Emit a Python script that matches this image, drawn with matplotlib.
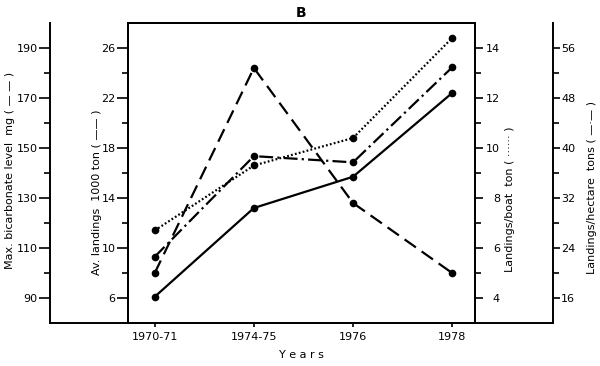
# Gráfico com quatro eixos y (figura B)
import matplotlib.pyplot as plt

plt.rcParams['lines.scale_dashes'] = False

# Dados
anos = ['1970-71', '1974-75', '1976', '1978']
bicarbonato = [100, 182, 128, 100]      # mg, tracejado
desembarques = [6.1, 13.2, 15.7, 22.4]  # 1000 ton, linha continua
por_barco = [6.7, 9.3, 10.4, 14.4]      # ton, pontilhado
por_hectare = [22.6, 38.7, 37.7, 52.9]  # ton, traco-ponto

x = list(range(len(anos)))
fs = 8
lw = 1.6

fig = plt.figure(figsize=(6, 3.66), dpi=100)
ax = fig.add_axes([0.2133, 0.1175, 0.5783, 0.8197])
ax_b = ax.twinx()
ax_d = ax.twinx()
ax_h = ax.twinx()

# Linhas
ax.plot(x, desembarques, color='black', lw=lw, marker='o', ms=4.5)
ax_b.plot(x, bicarbonato, color='black', lw=lw, marker='o', ms=4.5, dashes=(10, 5))
ax_d.plot(x, por_barco, color='black', lw=lw, marker='o', ms=4.5, dashes=(1.3, 1.6))
ax_h.plot(x, por_hectare, color='black', lw=lw, marker='o', ms=4.5, dashes=(10, 3, 1.6, 3))

ax.set_xlim(-0.27, 3.23)
ax.set_xticks(x, anos, fontsize=fs)
ax.tick_params(axis='x', length=3, width=1.2, direction='out')

# Eixo esquerdo interno (desembarques)
ax.set_ylim(4, 28)
ax.set_yticks(range(6, 27, 4))
ax.set_yticks(range(8, 27, 4), minor=True)
ax.tick_params(axis='y', which='major', length=8, width=1.2, labelsize=fs, pad=1)
ax.tick_params(axis='y', which='minor', length=4, width=1.2)
ax.set_ylabel('Av. landings  1000 ton ( —— )', fontsize=fs)
ax.yaxis.set_label_coords(-0.089, 0.437)

# Eixo esquerdo externo (bicarbonato)
ax_b.set_ylim(80, 200)
ax_b.yaxis.set_ticks_position('left')
ax_b.yaxis.set_label_position('left')
ax_b.spines['left'].set_position(('axes', -0.2248))
ax_b.spines['left'].set_visible(True)
ax_b.set_yticks(range(90, 191, 20))
ax_b.set_yticks(range(100, 191, 20), minor=True)
ax_b.tick_params(axis='y', which='major', length=8, width=1.2, labelsize=fs, pad=1)
ax_b.tick_params(axis='y', which='minor', length=4, width=1.2)
ax_b.set_ylabel('Max. bicarbonate level  mg ( — — )', fontsize=fs)
ax_b.yaxis.set_label_coords(-0.340, 0.51)

# Eixo direito interno (por barco)
ax_d.set_ylim(3, 15)
ax_d.set_yticks(range(4, 15, 2))
ax_d.set_yticks(range(5, 15, 2), minor=True)
ax_d.tick_params(axis='y', which='major', length=6, width=1.2, labelsize=fs, pad=12)
ax_d.tick_params(axis='y', which='minor', length=4, width=1.2)
for t in ax_d.get_yticklabels():
    t.set_horizontalalignment('right')
ax_d.set_ylabel('Landings/boat  ton ( ······ )', fontsize=fs)
ax_d.yaxis.set_label_coords(1.101, 0.413)

# Eixo direito externo (por hectare)
ax_h.set_ylim(12, 60)
ax_h.spines['right'].set_position(('axes', 1.2248))
ax_h.set_yticks(range(16, 57, 8))
ax_h.set_yticks(range(20, 57, 8), minor=True)
ax_h.tick_params(axis='y', which='major', length=5, width=1.2, labelsize=fs, pad=1)
ax_h.tick_params(axis='y', which='minor', length=4, width=1.2)
ax_h.set_ylabel('Landings/hectare  tons ( —·— )', fontsize=fs)
ax_h.yaxis.set_label_coords(1.337, 0.453)

for a in [ax, ax_b, ax_d, ax_h]:
    a.yaxis.label.set_va('center')
    for s in a.spines.values():
        s.set_linewidth(1.4)

ax_b.spines['right'].set_visible(False)
ax_b.spines['top'].set_visible(False)
ax_b.spines['bottom'].set_visible(False)
ax_h.spines['left'].set_visible(False)
ax_h.spines['top'].set_visible(False)
ax_h.spines['bottom'].set_visible(False)

# Linha base estendida ate os eixos externos
ax.plot([-0.2248, 1.2248], [0, 0], transform=ax.transAxes, clip_on=False,
        color='black', lw=1.4)

ax.set_xlabel('Y e a r s', fontsize=fs, labelpad=6)
ax.set_title('B', fontsize=10, fontweight='bold', pad=4)

fig.savefig('out.png', dpi=100)
